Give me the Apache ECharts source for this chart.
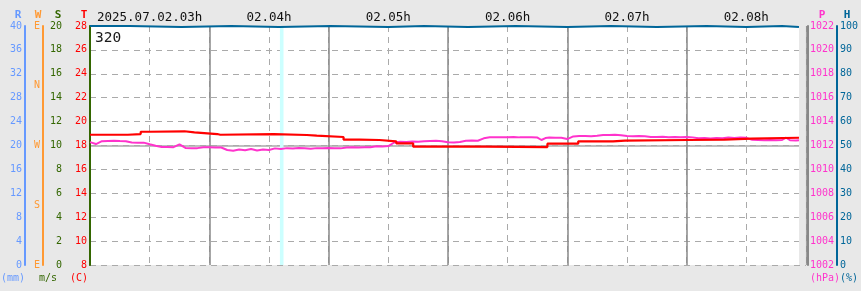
<!DOCTYPE html>
<html><head><meta charset="utf-8">
<script src="https://cdn.jsdelivr.net/npm/echarts@6/dist/echarts.min.js"></script>
<style>html,body{margin:0;padding:0;background:#e8e8e8}#c{width:861px;height:291px}</style>
</head><body><div id="c"></div>
<script>
const hourLabels = ['2025.07.02.03h','02.04h','02.05h','02.06h','02.07h','02.08h'];
const windLabels = ['E','S','W','N','E'];
const stationId = '320';

// temperature (C), minutes after 03:00
const tMin = [0, 19, 25.5, 28.5, 29.5, 30, 47.5, 52.5, 64, 65.5, 92.5, 109, 114, 127.5, 135.5, 145.5, 154, 162.5, 199, 230, 245.5, 263, 269, 300.5, 319, 332.5, 356.5];
const tVal = [18.90, 18.96, 19.15, 19.00, 19.15, 19.19, 19.10, 18.96, 18.90, 18.96, 18.88, 18.82, 18.71, 18.49, 18.46, 18.35, 18.18, 17.90, 17.87, 18.15, 18.35, 18.40, 18.46, 18.49, 18.57, 18.65, 18.65];

// pressure (hPa)
const pMin = [0,3,6,9,12,15,18,21,24,27,30,33,36,39,42,45,48,51,54,57,60,63,66,69,72,75,78,81,84,87,90,93,96,99,102,105,108,111,114,117,120,123,126,129,132,135,138,141,144,147,150,153,156,159,162,165,168,171,174,177,180,183,186,189,192,195,198,201,204,207,210,213,216,219,222,225,227,229,231,234,237,240,243,246,249,252,255,258,261,264,267,270,273,276,279,282,285,288,291,294,297,300,303,306,309,312,315,318,321,324,327,330,333,336,339,342,345,348,350,352,355,356.5];
const pVal = [1012.28,1012.12,1012.36,1012.38,1012.40,1012.37,1012.36,1012.25,1012.23,1012.24,1012.10,1011.98,1011.88,1011.87,1011.86,1012.10,1011.80,1011.76,1011.78,1011.85,1011.86,1011.84,1011.83,1011.62,1011.56,1011.66,1011.60,1011.70,1011.58,1011.67,1011.62,1011.76,1011.70,1011.78,1011.74,1011.80,1011.76,1011.72,1011.78,1011.76,1011.80,1011.78,1011.76,1011.84,1011.86,1011.83,1011.86,1011.85,1011.93,1011.92,1011.95,1012.25,1012.32,1012.30,1012.34,1012.32,1012.36,1012.38,1012.40,1012.36,1012.28,1012.26,1012.30,1012.40,1012.42,1012.40,1012.60,1012.69,1012.70,1012.68,1012.70,1012.71,1012.68,1012.70,1012.69,1012.66,1012.46,1012.62,1012.66,1012.65,1012.64,1012.54,1012.76,1012.79,1012.80,1012.78,1012.82,1012.88,1012.87,1012.89,1012.86,1012.80,1012.78,1012.80,1012.78,1012.72,1012.71,1012.74,1012.70,1012.72,1012.70,1012.71,1012.68,1012.60,1012.62,1012.58,1012.62,1012.60,1012.66,1012.63,1012.66,1012.64,1012.48,1012.46,1012.44,1012.47,1012.43,1012.46,1012.65,1012.44,1012.42,1012.44];

// humidity (%)
const hMin = [0,20,21,46,47,71,72,95,96,121,122,150,151,168,169,190,191,214,215,240,241,262,263,285,286,310,311,330,331,348,349,356.5];
const hVal = [100,100,99.6,99.6,100,100,99.6,99.6,100,100,99.6,99.6,100,100,99.6,99.6,100,100,99.6,99.6,100,100,99.6,99.6,100,100,99.6,99.6,100,100,99.6,99.6];

// marker band (minutes) and no-data region
const bandMin = [95.5, 97.3];
const futureMin = [356.5, 360];

const zip = (a, b) => a.map((v, i) => [v, b[i]]);
const F = '"DejaVu Sans Mono", monospace';
const lbl = (color, extra) => Object.assign({color: color, fontFamily: F, fontSize: 10, margin: 3, formatter: v => String(v)}, extra || {});

const chart = echarts.init(document.getElementById('c'), null, {renderer: 'canvas'});
chart.setOption({
  backgroundColor: '#e8e8e8',
  animation: false,
  grid: {left: 90, top: 26, width: 720, height: 239, show: true, backgroundColor: '#ffffff', borderWidth: 0},
  xAxis: [
    {type: 'value', min: 0, max: 360, interval: 30, position: 'top',
     axisLine: {show: false}, axisTick: {show: false},
     axisLabel: {color: '#111', fontFamily: F, fontSize: 12.5, margin: 2,
       formatter: v => (v % 60 === 30) ? hourLabels[(v - 30) / 60] : ''},
     splitLine: {show: true, lineStyle: {color: '#aaaaaa', type: [6, 5], width: 1}}},
    {type: 'value', min: 0, max: 360, interval: 60, position: 'bottom',
     axisLine: {show: false}, axisTick: {show: false}, axisLabel: {show: false},
     splitLine: {show: true, lineStyle: {color: '#888888', width: 1.5}}}
  ],
  yAxis: [
    {type: 'value', min: 8, max: 28, interval: 2, position: 'left', offset: 0,
     axisLine: {show: true, lineStyle: {color: '#888888', width: 2}}, axisTick: {show: false},
     axisLabel: lbl('#ff0000'),
     splitLine: {show: true, lineStyle: {color: '#aaaaaa', type: [6, 5], width: 1}}},
    {type: 'value', min: 0, max: 20, interval: 2, position: 'left', offset: 25,
     axisLine: {show: true, lineStyle: {color: '#336600', width: 2}}, axisTick: {show: false},
     axisLabel: lbl('#336600'), splitLine: {show: false}},
    {type: 'value', min: 0, max: 4, interval: 1, position: 'left', offset: 47,
     axisLine: {show: true, lineStyle: {color: '#ff9933', width: 2}}, axisTick: {show: false},
     axisLabel: lbl('#ff9933', {formatter: v => windLabels[v]}), splitLine: {show: false}},
    {type: 'value', min: 0, max: 40, interval: 4, position: 'left', offset: 65,
     axisLine: {show: true, lineStyle: {color: '#6699ff', width: 2}}, axisTick: {show: false},
     axisLabel: lbl('#6699ff'), splitLine: {show: false}},
    {type: 'value', min: 1002, max: 1022, interval: 2, position: 'right', offset: 2,
     axisLine: {show: true, lineStyle: {color: '#888888', width: 2}}, axisTick: {show: false},
     axisLabel: lbl('#ff33cc', {margin: 2}), splitLine: {show: false}},
    {type: 'value', min: 0, max: 100, interval: 10, position: 'right', offset: 31,
     axisLine: {show: true, lineStyle: {color: '#006699', width: 2}}, axisTick: {show: false},
     axisLabel: lbl('#006699', {margin: 3}), splitLine: {show: false}},
    {type: 'value', min: 0, max: 2, interval: 1, position: 'left', offset: 0,
     axisLine: {show: false}, axisTick: {show: false}, axisLabel: {show: false},
     splitLine: {show: true, lineStyle: {color: ['rgba(0,0,0,0)', '#aaaaaa', 'rgba(0,0,0,0)'], width: 1.5}}}
  ],
  series: [
    {type: 'line', name: 'band', xAxisIndex: 0, yAxisIndex: 0, data: [], silent: true,
     markArea: {silent: true, data: [
       [{xAxis: bandMin[0], itemStyle: {color: '#ccffff'}}, {xAxis: bandMin[1]}],
       [{xAxis: futureMin[0], itemStyle: {color: '#e8e8e8'}}, {xAxis: futureMin[1]}]
     ]}},
    {type: 'line', name: 'P', xAxisIndex: 0, yAxisIndex: 4, data: zip(pMin, pVal), showSymbol: false,
     lineStyle: {color: '#ff33cc', width: 2}, z: 3},
    {type: 'line', name: 'T', xAxisIndex: 0, yAxisIndex: 0, data: zip(tMin, tVal), showSymbol: false, step: 'end',
     lineStyle: {color: '#ff0000', width: 2.2}, z: 4},
    {type: 'line', name: 'H', xAxisIndex: 0, yAxisIndex: 5, data: zip(hMin, hVal), showSymbol: false, clip: false,
     lineStyle: {color: '#006699', width: 2}, z: 5}
  ],
  graphic: [
    {type: 'text', left: 95, top: 31, style: {text: stationId, font: '14.5px ' + F, fill: '#1a1a1a'}},
    {type: 'text', x: 18, y: 15.5, style: {text: 'R', font: 'bold 11px ' + F, fill: '#6699ff', align: 'center', verticalAlign: 'middle'}},
    {type: 'text', x: 38, y: 15.5, style: {text: 'W', font: 'bold 11px ' + F, fill: '#ff9933', align: 'center', verticalAlign: 'middle'}},
    {type: 'text', x: 58, y: 15.5, style: {text: 'S', font: 'bold 11px ' + F, fill: '#336600', align: 'center', verticalAlign: 'middle'}},
    {type: 'text', x: 84, y: 15.5, style: {text: 'T', font: 'bold 11px ' + F, fill: '#ff0000', align: 'center', verticalAlign: 'middle'}},
    {type: 'text', x: 822, y: 15.5, style: {text: 'P', font: 'bold 11px ' + F, fill: '#ff33cc', align: 'center', verticalAlign: 'middle'}},
    {type: 'text', x: 847, y: 15.5, style: {text: 'H', font: 'bold 11px ' + F, fill: '#006699', align: 'center', verticalAlign: 'middle'}},
    {type: 'text', x: 1, y: 278, style: {text: '(mm)', font: '10px ' + F, fill: '#6699ff', align: 'left', verticalAlign: 'middle'}},
    {type: 'text', x: 39, y: 278, style: {text: 'm/s', font: '10px ' + F, fill: '#336600', align: 'left', verticalAlign: 'middle'}},
    {type: 'text', x: 70, y: 278, style: {text: '(C)', font: '10px ' + F, fill: '#ff0000', align: 'left', verticalAlign: 'middle'}},
    {type: 'text', x: 810, y: 278, style: {text: '(hPa)', font: '10px ' + F, fill: '#ff33cc', align: 'left', verticalAlign: 'middle'}},
    {type: 'text', x: 840, y: 278, style: {text: '(%)', font: '10px ' + F, fill: '#006699', align: 'left', verticalAlign: 'middle'}}
  ]
});
</script></body></html>
